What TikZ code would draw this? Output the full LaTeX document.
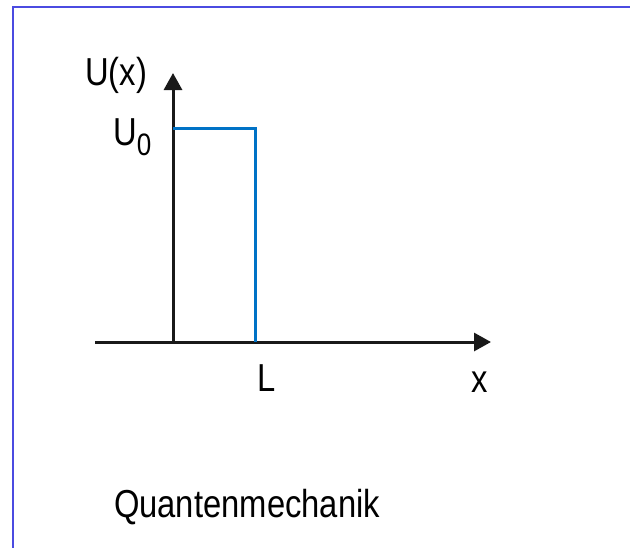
\documentclass[tikz,border=0pt]{standalone}
\usepackage{fontspec}
\setmainfont{Liberation Sans}[FakeStretch=0.84]
\usetikzlibrary{arrows.meta}

\definecolor{framecol}{RGB}{75,75,225}
\definecolor{wallcol}{RGB}{0,114,198}

\tikzset{
  axis/.style={line width=3pt,color=black!90,-{Triangle[length=17pt,width=18pt]}},
  wall/.style={line width=3pt,color=wallcol},
  lbl/.style={inner sep=0pt,font=\fontsize{39}{45}\selectfont}
}

\begin{document}
\begin{tikzpicture}[x=1pt,y=-1pt]
\useasboundingbox (0,0) rectangle (630,547);
\clip (0,0) rectangle (630,547);
\draw[framecol,line width=2pt] (13,7) rectangle (660,580);

% axes
\coordinate (O) at (173,342);
\coordinate (xstart) at (95,342);
\coordinate (xend) at (491,342);
\coordinate (yend) at (173,73);
\draw[axis] (xstart) -- (xend);
\draw[axis] (O) -- (yend);

% potential step
\coordinate (top) at (173,128);
\coordinate (corner) at (255,128);
\coordinate (Lpos) at (255,342);
\draw[wall] (top) -- (corner) -- (Lpos);

% labels
\node[lbl,anchor=base] (Ux) at (116,85) {U(x)};
\node[lbl,anchor=base west] (U0) at (113,145) {U\raisebox{-10pt}{\fontsize{31}{31}\selectfont 0}};
\node[lbl,anchor=base west] (L) at (257,391) {L};
\node[lbl,anchor=base] (xlab) at (480,392) {x};
\node[lbl,anchor=base] (title) at (247,517) {Quantenmechanik};
\end{tikzpicture}
\end{document}
